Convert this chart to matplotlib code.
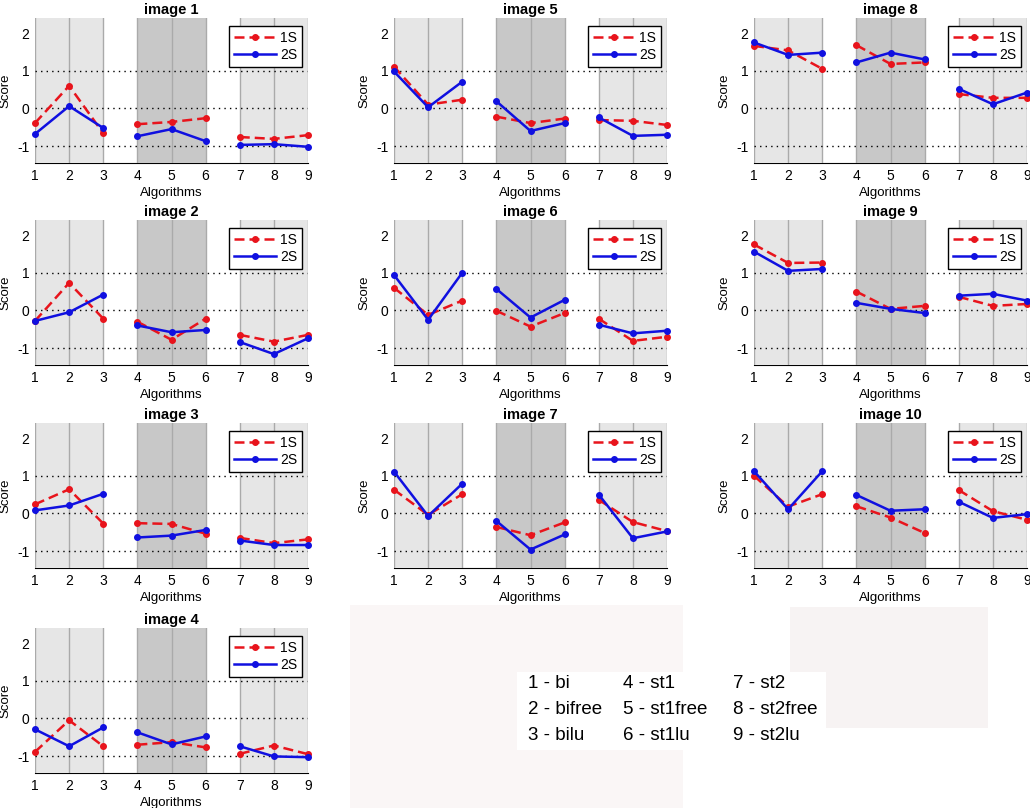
import matplotlib
matplotlib.use('Agg')
import matplotlib.pyplot as plt
from matplotlib.patches import Rectangle

plt.rcParams['font.family'] = ['Liberation Sans', 'DejaVu Sans']
plt.rcParams['axes.unicode_minus'] = False  # 负号用普通连字符

# 算法编号和图例说明
algorithms = [1, 2, 3, 4, 5, 6, 7, 8, 9]
algo_names = ['bi', 'bifree', 'bilu', 'st1', 'st1free', 'st1lu',
              'st2', 'st2free', 'st2lu']
series_labels = ['1S', '2S']

# 每张图的得分 (1S / 2S)
image_titles = ['image 1', 'image 2', 'image 3', 'image 4', 'image 5',
                'image 6', 'image 7', 'image 8', 'image 9', 'image 10']
scores_1s = [
    [-0.39, 0.60, -0.66, -0.42, -0.36, -0.26, -0.76, -0.81, -0.71],
    [-0.28, 0.73, -0.22, -0.30, -0.78, -0.22, -0.65, -0.83, -0.65],
    [0.24, 0.64, -0.27, -0.26, -0.28, -0.54, -0.65, -0.79, -0.69],
    [-0.89, -0.05, -0.74, -0.70, -0.63, -0.77, -0.94, -0.72, -0.95],
    [1.11, 0.10, 0.23, -0.22, -0.39, -0.27, -0.31, -0.33, -0.44],
    [0.60, -0.12, 0.26, -0.01, -0.43, -0.07, -0.22, -0.81, -0.70],
    [0.63, -0.04, 0.51, -0.36, -0.58, -0.24, 0.36, -0.23, -0.47],
    [1.66, 1.54, 1.05, 1.68, 1.18, 1.22, 0.38, 0.28, 0.28],
    [1.75, 1.26, 1.27, 0.50, 0.04, 0.12, 0.36, 0.12, 0.17],
    [1.00, 0.18, 0.51, 0.19, -0.11, -0.52, 0.62, 0.06, -0.17],
]
scores_2s = [
    [-0.68, 0.06, -0.52, -0.74, -0.55, -0.87, -0.97, -0.95, -1.02],
    [-0.28, -0.05, 0.42, -0.40, -0.58, -0.52, -0.84, -1.16, -0.74],
    [0.08, 0.21, 0.52, -0.64, -0.59, -0.44, -0.72, -0.84, -0.84],
    [-0.29, -0.74, -0.24, -0.37, -0.69, -0.48, -0.74, -1.01, -1.03],
    [0.98, 0.03, 0.71, 0.19, -0.60, -0.39, -0.24, -0.73, -0.70],
    [0.94, -0.25, 1.00, 0.57, -0.19, 0.28, -0.38, -0.61, -0.54],
    [1.11, -0.07, 0.79, -0.20, -0.96, -0.56, 0.50, -0.66, -0.48],
    [1.75, 1.42, 1.48, 1.22, 1.48, 1.30, 0.52, 0.11, 0.42],
    [1.56, 1.05, 1.10, 0.20, 0.04, -0.07, 0.39, 0.44, 0.26],
    [1.12, 0.11, 1.12, 0.49, 0.07, 0.11, 0.31, -0.12, -0.02],
]

# 子图位置 (行, 列)
panel_pos = [(0, 0), (1, 0), (2, 0), (3, 0), (0, 1), (1, 1), (2, 1),
             (0, 2), (1, 2), (2, 2)]

W, H = 1030, 808
col_left = [35, 394, 754]
row_bottom = [163, 365, 568, 773]
ax_w, ax_h = 273, 145


def draw_panel(ax, title, y1, y2):
    ax.set_xlim(1, 9)
    ax.set_ylim(-1.45, 2.4)
    # 背景分组色块
    ax.add_patch(Rectangle((1, -1.45), 2, 3.85, color='#e6e6e6', zorder=2.6, lw=0))
    ax.add_patch(Rectangle((4, -1.45), 2, 3.85, color='#c8c8c8', zorder=2.6, lw=0))
    ax.add_patch(Rectangle((7, -1.45), 2, 3.85, color='#e6e6e6', zorder=2.6, lw=0))
    for x in algorithms:
        ax.axvline(x, color='#aaaaaa', lw=1, zorder=2.7)
    for y in [-1, 0, 1]:
        ax.axhline(y, color='black', lw=1, ls=(0, (1, 3)), zorder=2.8)

    for g in range(3):
        xs = algorithms[g * 3:g * 3 + 3]
        l1, = ax.plot(xs, y1[g * 3:g * 3 + 3], color='#e8141c', ls=(0, (4, 2)),
                      lw=1.8, marker='o', ms=4, zorder=4, clip_on=False)
        l2, = ax.plot(xs, y2[g * 3:g * 3 + 3], color='#1010e0', ls='-',
                      lw=1.8, marker='o', ms=4, zorder=4, clip_on=False)

    for s in ['top', 'right', 'left']:
        ax.spines[s].set_visible(False)
    ax.spines['bottom'].set_color('black')
    ax.set_xticks(algorithms)
    ax.set_yticks([-1, 0, 1, 2])
    ax.tick_params(length=0, labelsize=10, pad=4)
    ax.set_xlabel('Algorithms', fontsize=9.5, labelpad=3)
    ax.set_ylabel('Score', fontsize=9.5)
    ax.yaxis.set_label_coords(-0.085, 0.5)
    ax.set_title(title, fontsize=10.5, fontweight='bold', pad=3)

    leg = ax.legend([l1, l2], series_labels, loc='upper right',
                    bbox_to_anchor=(0.978, 0.945), fontsize=10,
                    fancybox=False, framealpha=1, edgecolor='black',
                    handlelength=3.0, borderpad=0.35, labelspacing=0.25,
                    handletextpad=0.3, borderaxespad=0)
    leg.get_frame().set_linewidth(1)
    leg.set_zorder(6)


fig = plt.figure(figsize=(W / 100, H / 100), dpi=100)

for i, (r, c) in enumerate(panel_pos):
    rect = [col_left[c] / W, 1 - row_bottom[r] / H, ax_w / W, ax_h / H]
    ax = fig.add_axes(rect)
    draw_panel(ax, image_titles[i], scores_1s[i], scores_2s[i])

# 右下角的空白区域和算法说明
fig.add_artist(Rectangle((350 / W, 0), 333 / W, 203 / H, transform=fig.transFigure,
                         color='#faf6f6', lw=0, zorder=0))
fig.add_artist(Rectangle((790 / W, 1 - 728 / H), 198 / W, 121 / H,
                         transform=fig.transFigure, color='#f7f3f3', lw=0, zorder=0))
fig.add_artist(Rectangle((517 / W, 1 - 750 / H), 309 / W, 78 / H,
                         transform=fig.transFigure, color='white', lw=0, zorder=1))

text_x = [528, 623, 733]
text_y = [683, 709, 736]
for k, name in enumerate(algo_names):
    fig.text(text_x[k // 3] / W, 1 - text_y[k % 3] / H, f'{k + 1} - {name}',
             fontsize=13.5, ha='left', va='center', zorder=2)

fig.savefig('out.png', dpi=100)
